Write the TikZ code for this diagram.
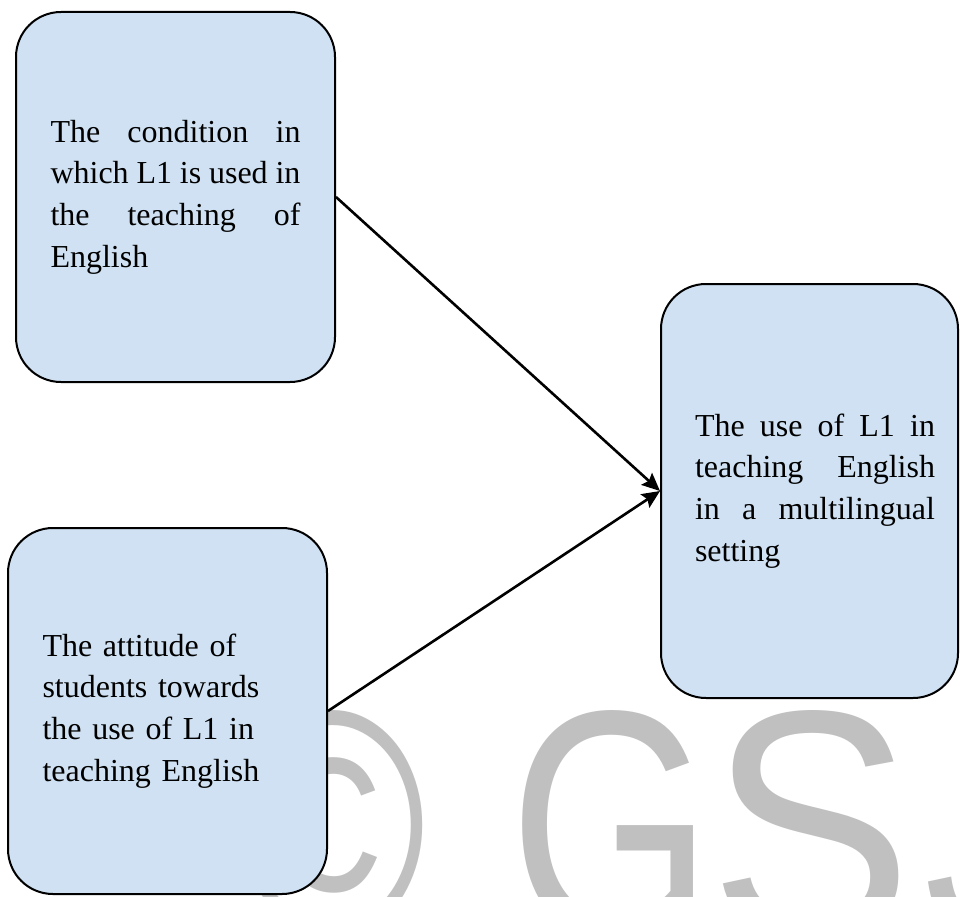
\documentclass[tikz,border=0pt]{standalone}
\usepackage{graphicx}
\usepackage{fontspec}
\setmainfont{Liberation Serif}
\newfontfamily\wmfont{Liberation Sans}
\usetikzlibrary{arrows.meta}
\definecolor{boxfill}{RGB}{207,225,242}
\definecolor{wmgray}{RGB}{192,192,192}
\tikzset{
  flowbox/.style={draw=black, line width=2pt, fill=boxfill, rounded corners=45pt,
    inner sep=0pt, font=\fontsize{32}{41.7}\selectfont},
  conn/.style={line width=2.6pt, -{Stealth[length=18pt,width=16pt,inset=3pt]}},
  wmark/.style={text=wmgray, inner sep=0pt, anchor=base,
    font=\wmfont\fontsize{254}{254}\selectfont}
}
\begin{document}
\begin{tikzpicture}[x=1pt,y=-1pt]
\useasboundingbox (0,0) rectangle (960,896);
\begin{scope}
\clip (0,0) rectangle (960,896);
\node[wmark] (wc) at (333,937) {\scalebox{1}[1.28]{©}};
\node[wmark] (wg) at (611,937) {\scalebox{1.03}[1.28]{G}};
\node[wmark] (ws) at (811.5,937) {\scalebox{1.2}[1.28]{S}};
\node[wmark] (wj) at (988,937) {\scalebox{1}[1.28]{J}};
\end{scope}
\node[flowbox, minimum width=319pt, minimum height=370pt, text width=250pt, align=justify]
  (b1) at (175.5,197) {The condition in\linebreak which L1 is used in\linebreak the teaching of\linebreak English};
\node[flowbox, minimum width=319pt, minimum height=366pt, text width=250pt, align=left]
  (b2) at (167.5,711) {The attitude of\\ students towards\\ the use of L1 in\\ teaching English};
\node[flowbox, minimum width=297pt, minimum height=414pt]
  (b3) at (809.5,491) {\hspace*{11pt}\parbox{240pt}{The use of L1 in\linebreak teaching English\linebreak in a multilingual\linebreak setting}};
\draw[conn] (b1.east) -- (b3.west);
\draw[conn] (b2.east) -- (b3.west);
\end{tikzpicture}
\end{document}
